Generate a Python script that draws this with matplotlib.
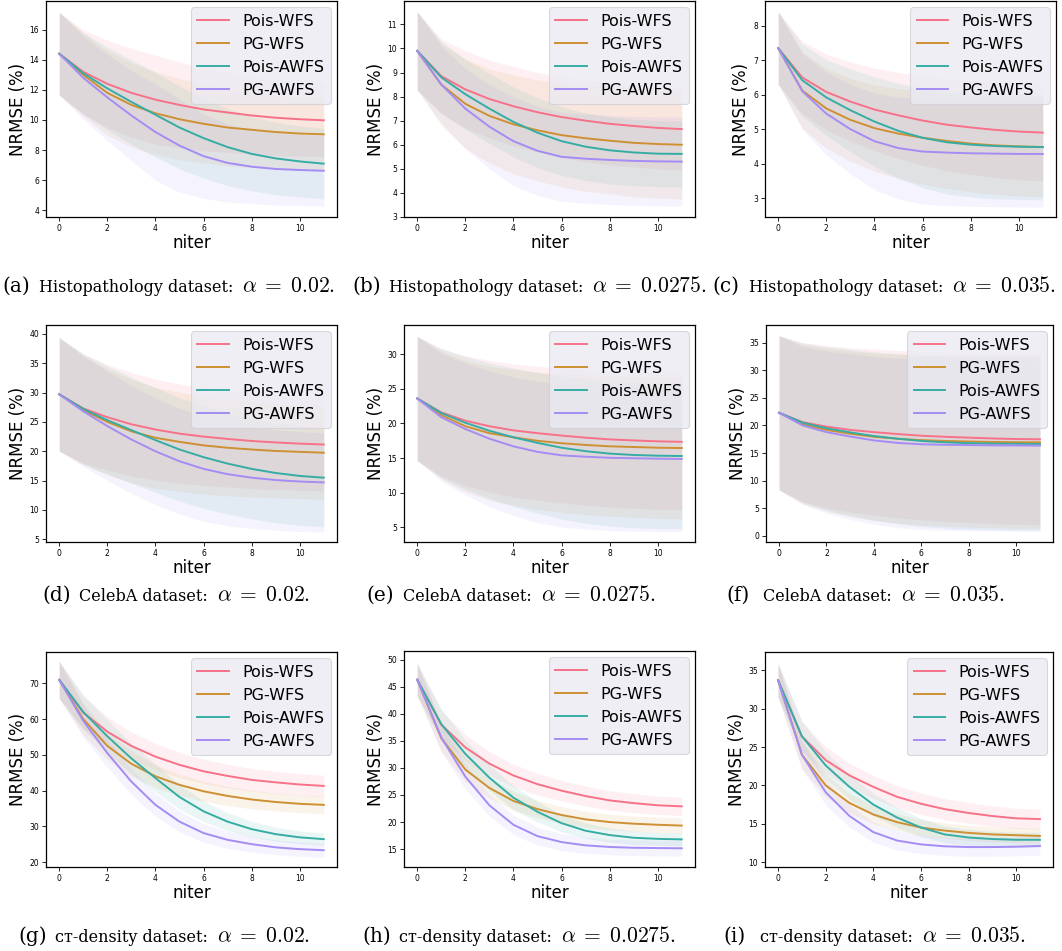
import matplotlib
matplotlib.use("Agg")
import matplotlib.pyplot as plt
from matplotlib.ticker import MultipleLocator
import numpy as np

plt.rcParams["mathtext.fontset"] = "cm"

niter = list(range(12))
methods = ["Pois-WFS", "PG-WFS", "Pois-AWFS", "PG-AWFS"]
colors = ["#f77189", "#ce9032", "#36ada4", "#a48cf4"]

# --- Histopathology, alpha = 0.02 ---
histo_02_mean = [
    [14.4, 13.2, 12.4, 11.8, 11.35, 11.0, 10.7, 10.5, 10.3, 10.15, 10.05, 9.98],
    [14.4, 13.0, 11.8, 11.0, 10.45, 10.05, 9.75, 9.5, 9.35, 9.2, 9.1, 9.05],
    [14.4, 13.1, 12.1, 11.2, 10.35, 9.5, 8.8, 8.2, 7.75, 7.45, 7.25, 7.1],
    [14.4, 12.8, 11.5, 10.3, 9.2, 8.3, 7.6, 7.15, 6.9, 6.75, 6.68, 6.63],
]
histo_02_std = [
    [2.75, 2.8, 2.9, 2.95, 2.95, 2.85, 2.75, 2.65, 2.55, 2.5, 2.45, 2.4],
    [2.75, 2.75, 2.8, 2.8, 2.75, 2.7, 2.6, 2.55, 2.5, 2.45, 2.4, 2.4],
    [2.75, 2.7, 2.75, 2.8, 2.8, 2.75, 2.65, 2.55, 2.45, 2.4, 2.35, 2.35],
    [2.75, 2.75, 2.85, 3.0, 3.2, 3.1, 2.8, 2.6, 2.45, 2.4, 2.35, 2.35],
]

# --- Histopathology, alpha = 0.0275 ---
histo_0275_mean = [
    [9.9, 8.85, 8.3, 7.9, 7.6, 7.35, 7.15, 7.0, 6.87, 6.78, 6.7, 6.65],
    [9.9, 8.5, 7.7, 7.2, 6.85, 6.6, 6.4, 6.27, 6.17, 6.08, 6.03, 6.0],
    [9.9, 8.8, 8.1, 7.5, 6.95, 6.5, 6.15, 5.92, 5.77, 5.68, 5.63, 5.62],
    [9.9, 8.5, 7.5, 6.75, 6.15, 5.75, 5.5, 5.42, 5.37, 5.33, 5.31, 5.3],
]
histo_0275_std = [
    [1.62, 1.55, 1.6, 1.62, 1.65, 1.65, 1.68, 1.7, 1.7, 1.7, 1.7, 1.7],
    [1.62, 1.7, 1.85, 1.95, 2.05, 2.1, 2.15, 2.2, 2.2, 2.25, 2.25, 2.25],
    [1.62, 1.5, 1.45, 1.45, 1.45, 1.45, 1.42, 1.4, 1.4, 1.38, 1.37, 1.37],
    [1.62, 1.6, 1.65, 1.75, 1.85, 1.85, 1.85, 1.85, 1.85, 1.85, 1.85, 1.85],
]

# --- Histopathology, alpha = 0.035 ---
histo_035_mean = [
    [7.35, 6.5, 6.08, 5.8, 5.57, 5.4, 5.25, 5.13, 5.05, 4.98, 4.93, 4.9],
    [7.35, 6.12, 5.6, 5.27, 5.03, 4.87, 4.75, 4.66, 4.58, 4.53, 4.5, 4.48],
    [7.35, 6.42, 5.92, 5.55, 5.22, 4.95, 4.75, 4.62, 4.55, 4.51, 4.49, 4.48],
    [7.35, 6.1, 5.45, 5.0, 4.65, 4.45, 4.35, 4.32, 4.3, 4.29, 4.28, 4.28],
]
histo_035_std = [
    [1.05, 1.05, 1.1, 1.15, 1.2, 1.25, 1.3, 1.33, 1.36, 1.38, 1.4, 1.4],
    [1.05, 1.1, 1.15, 1.2, 1.25, 1.3, 1.35, 1.38, 1.4, 1.42, 1.44, 1.44],
    [1.05, 1.05, 1.1, 1.2, 1.3, 1.38, 1.45, 1.5, 1.52, 1.53, 1.53, 1.53],
    [1.05, 1.1, 1.2, 1.3, 1.4, 1.48, 1.52, 1.54, 1.54, 1.54, 1.54, 1.54],
]

# --- CelebA, alpha = 0.02 ---
celeba_02_mean = [
    [29.7, 27.3, 25.8, 24.6, 23.7, 23.0, 22.5, 22.1, 21.75, 21.5, 21.3, 21.15],
    [29.7, 27.0, 25.0, 23.4, 22.3, 21.6, 21.0, 20.6, 20.3, 20.05, 19.9, 19.75],
    [29.7, 27.2, 25.3, 23.6, 21.9, 20.3, 19.0, 17.9, 17.0, 16.3, 15.8, 15.5],
    [29.7, 26.8, 24.3, 22.0, 20.0, 18.3, 17.0, 16.1, 15.5, 15.1, 14.85, 14.7],
]
celeba_02_std = [
    [9.65, 9.3, 9.0, 8.8, 8.6, 8.45, 8.3, 8.2, 8.1, 8.0, 7.95, 7.9],
    [9.65, 9.3, 9.0, 8.8, 8.6, 8.45, 8.3, 8.2, 8.1, 8.0, 7.95, 7.95],
    [9.65, 9.4, 9.2, 9.0, 8.9, 8.8, 8.7, 8.6, 8.5, 8.45, 8.4, 8.4],
    [9.65, 9.4, 9.3, 9.2, 9.1, 9.0, 8.9, 8.8, 8.65, 8.55, 8.5, 8.45],
]

# --- CelebA, alpha = 0.0275 ---
celeba_0275_mean = [
    [23.6, 21.6, 20.4, 19.6, 19.0, 18.6, 18.25, 17.95, 17.7, 17.55, 17.42, 17.35],
    [23.6, 21.2, 19.6, 18.6, 18.0, 17.5, 17.15, 16.9, 16.7, 16.6, 16.5, 16.45],
    [23.6, 21.5, 20.1, 18.95, 18.0, 17.2, 16.5, 16.0, 15.65, 15.45, 15.35, 15.3],
    [23.6, 20.9, 19.2, 17.8, 16.7, 15.9, 15.4, 15.2, 15.05, 14.98, 14.92, 14.88],
]
celeba_0275_std = [
    [8.95, 9.2, 9.35, 9.5, 9.6, 9.65, 9.7, 9.75, 9.75, 9.8, 9.8, 9.8],
    [8.95, 9.2, 9.45, 9.65, 9.8, 9.9, 10.0, 10.05, 10.1, 10.15, 10.2, 10.2],
    [8.95, 9.3, 9.55, 9.8, 10.0, 10.15, 10.3, 10.4, 10.45, 10.5, 10.5, 10.5],
    [8.95, 9.2, 9.5, 9.8, 10.0, 10.2, 10.35, 10.45, 10.5, 10.5, 10.5, 10.5],
]

# --- CelebA, alpha = 0.035 ---
celeba_035_mean = [
    [22.3, 20.6, 19.8, 19.2, 18.8, 18.45, 18.15, 17.95, 17.8, 17.65, 17.55, 17.5],
    [22.3, 20.2, 19.2, 18.5, 17.95, 17.6, 17.35, 17.2, 17.1, 17.02, 16.97, 16.95],
    [22.3, 20.5, 19.5, 18.75, 18.1, 17.6, 17.2, 16.95, 16.8, 16.72, 16.68, 16.65],
    [22.3, 20.0, 18.8, 18.0, 17.3, 16.85, 16.6, 16.5, 16.45, 16.4, 16.38, 16.35],
]
celeba_035_std = [
    [13.95, 14.4, 14.7, 14.9, 15.05, 15.15, 15.25, 15.3, 15.35, 15.4, 15.45, 15.5],
    [13.95, 14.4, 14.75, 15.0, 15.15, 15.3, 15.4, 15.45, 15.5, 15.55, 15.6, 15.6],
    [13.95, 14.45, 14.8, 15.05, 15.25, 15.4, 15.5, 15.55, 15.6, 15.6, 15.65, 15.65],
    [13.95, 14.3, 14.7, 15.0, 15.2, 15.35, 15.45, 15.5, 15.5, 15.5, 15.5, 15.5],
]

# --- CT-density, alpha = 0.02 ---
ct_02_mean = [
    [71.0, 61.8, 56.5, 52.5, 49.5, 47.2, 45.4, 44.1, 43.0, 42.3, 41.7, 41.3],
    [71.0, 60.0, 52.5, 47.5, 44.0, 41.6, 39.8, 38.5, 37.5, 36.8, 36.3, 36.0],
    [71.0, 62.0, 55.2, 49.0, 43.5, 38.2, 34.2, 31.3, 29.2, 27.8, 26.9, 26.4],
    [71.0, 59.5, 50.5, 42.5, 36.0, 31.3, 28.1, 26.2, 25.0, 24.1, 23.6, 23.3],
]
ct_02_std = [
    [5.2, 4.6, 4.2, 3.9, 3.7, 3.5, 3.4, 3.3, 3.2, 3.1, 3.0, 3.0],
    [5.2, 4.4, 3.9, 3.5, 3.2, 3.0, 2.8, 2.7, 2.6, 2.55, 2.5, 2.5],
    [5.2, 4.8, 4.6, 4.3, 3.9, 3.4, 2.9, 2.5, 2.2, 1.95, 1.8, 1.7],
    [5.2, 4.5, 4.0, 3.6, 3.2, 2.9, 2.6, 2.4, 2.2, 2.1, 2.0, 2.0],
]

# --- CT-density, alpha = 0.0275 ---
ct_0275_mean = [
    [46.3, 38.0, 33.8, 30.8, 28.6, 27.0, 25.8, 24.8, 24.0, 23.5, 23.1, 22.9],
    [46.3, 35.5, 29.7, 26.3, 23.9, 22.4, 21.3, 20.5, 20.0, 19.7, 19.5, 19.35],
    [46.3, 38.1, 32.6, 28.2, 24.5, 21.9, 19.8, 18.4, 17.6, 17.1, 16.9, 16.8],
    [46.3, 35.6, 28.4, 23.1, 19.5, 17.4, 16.3, 15.7, 15.4, 15.25, 15.2, 15.15],
]
ct_0275_std = [
    [3.0, 2.6, 2.4, 2.2, 2.1, 2.0, 1.9, 1.85, 1.8, 1.75, 1.7, 1.7],
    [3.0, 2.5, 2.2, 1.9, 1.75, 1.6, 1.55, 1.5, 1.45, 1.4, 1.4, 1.4],
    [3.0, 2.8, 2.6, 2.4, 2.2, 1.9, 1.6, 1.4, 1.3, 1.25, 1.2, 1.2],
    [3.0, 2.6, 2.3, 2.0, 1.8, 1.65, 1.55, 1.5, 1.45, 1.45, 1.45, 1.45],
]

# --- CT-density, alpha = 0.035 ---
ct_035_mean = [
    [33.7, 26.4, 23.3, 21.3, 19.8, 18.5, 17.6, 16.9, 16.4, 16.0, 15.7, 15.6],
    [33.7, 24.0, 20.0, 17.7, 16.2, 15.2, 14.5, 14.1, 13.8, 13.6, 13.5, 13.4],
    [33.7, 26.4, 22.6, 19.8, 17.5, 15.8, 14.5, 13.6, 13.2, 13.0, 12.9, 12.9],
    [33.7, 24.0, 19.1, 16.0, 13.9, 12.8, 12.3, 12.05, 11.95, 11.95, 12.0, 12.1],
]
ct_035_std = [
    [2.2, 1.9, 1.75, 1.6, 1.5, 1.45, 1.4, 1.38, 1.35, 1.33, 1.3, 1.3],
    [2.2, 1.8, 1.5, 1.3, 1.2, 1.1, 1.05, 1.0, 1.0, 1.0, 1.0, 1.0],
    [2.2, 2.0, 1.8, 1.6, 1.45, 1.3, 1.2, 1.1, 1.05, 1.0, 1.0, 1.0],
    [2.2, 1.9, 1.65, 1.45, 1.3, 1.25, 1.2, 1.2, 1.2, 1.2, 1.2, 1.2],
]

# (label, dataset text, alpha text, mean, std, ylim, ytick step, axes box px: left, top, right, bottom)
W, H = 1062, 951
panels = [
    ("(a)", "Histopathology dataset:", "0.02", histo_02_mean, histo_02_std,
     (3.56, 17.9), 2, (46, 1, 337, 217)),
    ("(b)", "Histopathology dataset:", "0.0275", histo_0275_mean, histo_0275_std,
     (3.0, 11.97), 1, (404, 1, 695, 217)),
    ("(c)", "Histopathology dataset:", "0.035", histo_035_mean, histo_035_std,
     (2.45, 8.72), 1, (765, 1, 1056, 217)),
    ("(d)", "CelebA dataset:", "0.02", celeba_02_mean, celeba_02_std,
     (4.55, 41.5), 5, (46, 325, 337, 542)),
    ("(e)", "CelebA dataset:", "0.0275", celeba_0275_mean, celeba_0275_std,
     (2.9, 34.2), 5, (404, 325, 695, 542)),
    ("(f)", "CelebA dataset:", "0.035", celeba_035_mean, celeba_035_std,
     (-1.1, 38.2), 5, (766, 325, 1053, 542)),
    ("(g)", "ᴄᴛ-density dataset:", "0.02", ct_02_mean, ct_02_std,
     (18.6, 78.8), 10, (46, 652, 337, 867)),
    ("(h)", "ᴄᴛ-density dataset:", "0.0275", ct_0275_mean, ct_0275_std,
     (11.7, 51.6), 5, (404, 651, 695, 867)),
    ("(i)", "ᴄᴛ-density dataset:", "0.035", ct_035_mean, ct_035_std,
     (9.35, 37.4), 5, (765, 652, 1053, 867)),
]
# caption anchor (left x, baseline y) in pixels
caption_pos = [(2, 292), (352, 292), (712, 292),
               (42, 601), (366, 601), (726, 601),
               (18, 942), (362, 942), (723, 942)]

fig = plt.figure(figsize=(W / 100, H / 100), dpi=100)
serif = ["DejaVu Serif"]
renderer = fig.canvas.get_renderer()

for (lab, dset, alpha, means, stds, ylim, step, box), (cx, cy) in zip(panels, caption_pos):
    l, t, r, b = box
    ax = fig.add_axes([l / W, 1 - b / H, (r - l) / W, (b - t) / H])
    for name, col, m, s in zip(methods, colors, means, stds):
        m = np.array(m)
        s = np.array(s)
        ax.fill_between(niter, m - s, m + s, color=col, alpha=0.1, lw=0)
        ax.plot(niter, m, color=col, lw=1.4, label=name)
    ax.set_xlim(-0.55, 11.55)
    ax.set_ylim(*ylim)
    ax.xaxis.set_major_locator(MultipleLocator(2))
    ax.yaxis.set_major_locator(MultipleLocator(step))
    ax.tick_params(labelsize=5.5, length=3, width=0.6, pad=2)
    for sp in ax.spines.values():
        sp.set_linewidth(0.9)
    ax.set_xlabel("niter", fontsize=12, labelpad=1)
    ax.set_ylabel("NRMSE (%)", fontsize=12, labelpad=2)
    leg = ax.legend(loc="upper right", fontsize=11.5, facecolor="#EAEAF2",
                    edgecolor="#d0d0d8", framealpha=0.8, borderaxespad=0.4,
                    handlelength=2.0, labelspacing=0.5)
    leg.get_frame().set_linewidth(0.8)

    # caption: label, dataset text, then the alpha part in math
    yb = 1 - cy / H
    fig.text(cx / W, yb, lab, fontsize=14.5, family=serif, va="baseline", ha="left")
    t1 = fig.text((cx + 37) / W, yb, dset, fontsize=11.5, family=serif,
                  va="baseline", ha="left")
    x1 = t1.get_window_extent(renderer).x1
    fig.text((x1 + 9) / W, yb, "$\\alpha\\;=\\;%s.$" % alpha, fontsize=15.5,
             va="baseline", ha="left")

fig.savefig("out.png", dpi=100)
